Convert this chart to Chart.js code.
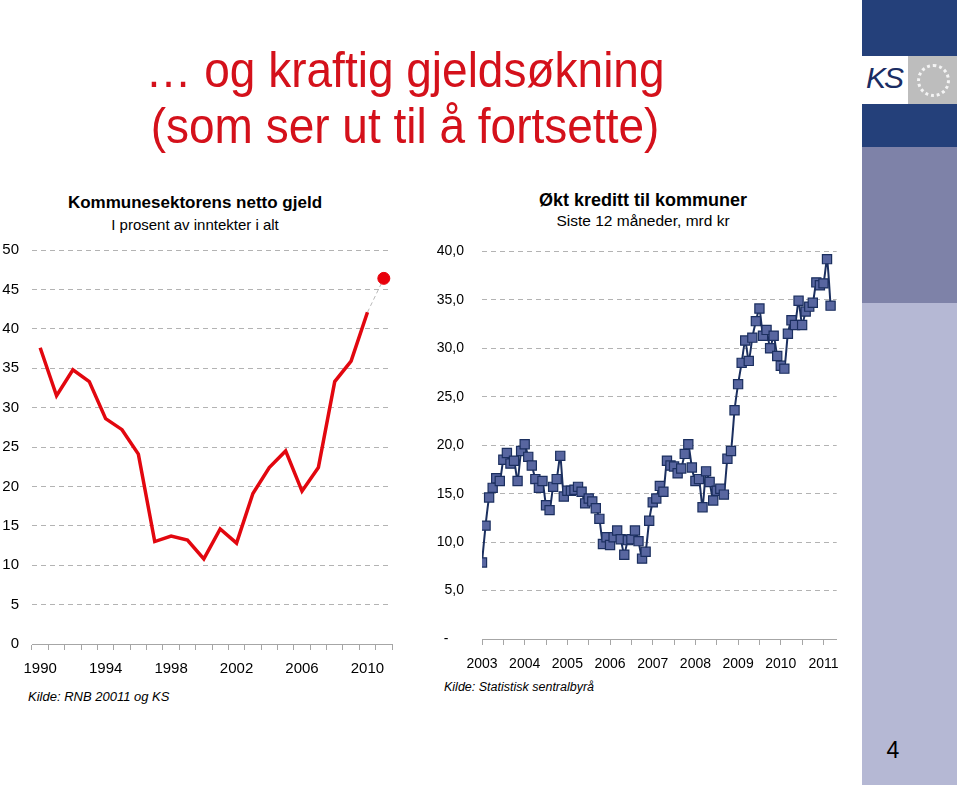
<!DOCTYPE html>
<html>
<head>
<meta charset="utf-8">
<script src="https://cdn.jsdelivr.net/npm/chart.js@4.4.1/dist/chart.umd.min.js"></script>
<style>
  body { margin:0; width:960px; height:785px; position:relative; overflow:hidden; background:#fff;
         font-family:"Liberation Sans", Arial, sans-serif; color:#000; }
  .abs { position:absolute; }
  .headline { left:0; width:810px; text-align:center; font-size:46px; line-height:46px; color:#d4111b;
              transform:scaleY(1.09); transform-origin:50% 39px; white-space:nowrap; }
  .ctitle { text-align:center; white-space:nowrap; }
  .kilde { font-style:italic; font-size:13px; white-space:nowrap; }
  canvas { position:absolute; }
</style>
</head>
<body>

<div class="abs headline" style="top:48px">… og kraftig gjeldsøkning</div>
<div class="abs headline" style="top:104px">(som ser ut til å fortsette)</div>

<div class="abs ctitle" style="left:45px; width:300px; top:193px; font-size:17px; font-weight:bold;">Kommunesektorens netto gjeld</div>
<div class="abs ctitle" style="left:45px; width:300px; top:216px; font-size:15px;">I prosent av inntekter i alt</div>

<div class="abs ctitle" style="left:493px; width:300px; top:190px; font-size:18px; font-weight:bold;">Økt kreditt til kommuner</div>
<div class="abs ctitle" style="left:493px; width:300px; top:212px; font-size:15.5px;">Siste 12 måneder, mrd kr</div>

<canvas id="gjeld" width="400" height="452" style="left:0; top:228px;"></canvas>
<canvas id="kreditt" width="430" height="450" style="left:420px; top:225px;"></canvas>

<div class="abs kilde" style="left:28px; top:689px;">Kilde: RNB 20011 og KS</div>
<div class="abs kilde" style="left:444px; top:680px; font-size:12.5px;">Kilde: Statistisk sentralbyrå</div>

<!-- KS side strip -->
<div class="abs" style="left:862px; top:0; width:95px; height:56px; background:#24407a;"></div>
<div class="abs" style="left:862px; top:56px; width:46px; height:48px; background:#fff;"></div>
<div class="abs" style="left:866px; top:61px; font-size:30px; font-style:italic; color:#1a2c63; letter-spacing:-2px;">KS</div>
<div class="abs" style="left:908px; top:56px; width:49px; height:48px; background:#bdbdbd;"></div>
<div class="abs" style="left:917px; top:64px; width:27px; height:27px; border:3px dotted #f4f4f4; border-radius:50%;"></div>
<div class="abs" style="left:862px; top:104px; width:95px; height:43px; background:#24407a;"></div>
<div class="abs" style="left:862px; top:147px; width:95px; height:156px; background:#7e82a8;"></div>
<div class="abs" style="left:862px; top:303px; width:95px; height:482px; background:#b5b8d4;"></div>
<div class="abs" style="left:862px; top:737px; width:62px; text-align:center; font-size:23px;">4</div>

<script>
// venstre figur: netto gjeld i prosent av inntekter
const aar = ['1990','1991','1992','1993','1994','1995','1996','1997','1998','1999','2000',
             '2001','2002','2003','2004','2005','2006','2007','2008','2009','2010','2011'];
const gjeld = [37.6, 31.5, 34.8, 33.3, 28.6, 27.2, 24.1, 13.0, 13.7, 13.2, 10.8,
               14.6, 12.8, 19.1, 22.4, 24.5, 19.4, 22.4, 33.3, 35.9, 42.1, null];
const anslag = [null, null, null, null, null, null, null, null, null, null, null,
                null, null, null, null, null, null, null, null, null, 42.1, 46.4];
const gjeldTicks = [0, 5, 10, 15, 20, 25, 30, 35, 40, 45, 50];

// høyre figur: økt kreditt siste 12 mnd, månedlig fra jan 2003
const startAar = 2003;
const kreditt = [
  7.9, 11.7, 14.6, 15.6, 16.6, 16.3, 18.5, 19.2, 18.1, 18.4, 16.3, 19.4,
  20.1, 18.8, 17.9, 16.5, 15.6, 16.3, 13.8, 13.3, 15.7, 16.5, 18.9, 14.7,
  15.3, 15.3, 15.4, 15.7, 15.2, 14.0, 14.5, 14.2, 13.5, 12.4, 9.8, 10.5,
  9.7, 10.5, 11.2, 10.3, 8.7, 10.2, 10.3, 11.2, 10.1, 8.3, 9.0, 12.2,
  14.1, 14.5, 15.8, 15.2, 18.4, 17.9, 17.8, 17.1, 17.6, 19.1, 20.1, 17.7,
  16.3, 16.5, 13.6, 17.3, 16.2, 14.3, 15.3, 15.5, 14.9, 18.6, 19.4, 23.6,
  26.3, 28.5, 30.8, 28.7, 31.1, 32.8, 34.1, 31.3, 31.9, 30.0, 31.3, 29.2,
  28.2, 27.9, 31.5, 32.9, 32.4, 34.9, 32.4, 33.8, 34.3, 34.7, 36.8, 36.5,
  36.7, 39.2, 34.4
];
const kredittAarTicks = [2003, 2004, 2005, 2006, 2007, 2008, 2009, 2010, 2011];

const gridGray = '#b3b3b3';
const axisGray = '#a6a6a6';

new Chart(document.getElementById('gjeld'), {
  type: 'line',
  data: {
    labels: aar,
    datasets: [
      {
        data: gjeld,
        borderColor: '#e2070f',
        borderWidth: 3.5,
        pointRadius: 0,
        tension: 0
      },
      {
        data: anslag,
        borderColor: '#b9b9b9',
        borderWidth: 1,
        borderDash: [4, 3],
        pointRadius: anslag.map((v, i) => i === anslag.length - 1 ? 6 : 0),
        pointBackgroundColor: '#e8000b',
        pointBorderColor: '#e8000b',
        tension: 0
      }
    ]
  },
  options: {
    responsive: false,
    animation: false,
    layout: { padding: { top: 10, right: 8, bottom: 0, left: 0 } },
    plugins: { legend: { display: false }, tooltip: { enabled: false } },
    scales: {
      x: {
        offset: true,
        grid: { offset: true, drawOnChartArea: false, color: axisGray, tickLength: 6 },
        border: { color: axisGray },
        ticks: {
          autoSkip: false, maxRotation: 0, padding: 10,
          color: '#000', font: { size: 15, family: 'Liberation Sans' },
          callback: function (v, i) { return i % 4 === 0 ? aar[i] : ''; }
        },
        afterFit: s => { s.height = 36; }
      },
      y: {
        min: 0, max: 50,
        afterBuildTicks: s => { s.ticks = gjeldTicks.map(v => ({ value: v })); },
        grid: { color: gridGray, drawTicks: false },
        border: { display: false, dash: [5, 4] },
        ticks: { padding: 13, color: '#000', font: { size: 15, family: 'Liberation Sans' } },
        afterFit: s => { s.width = 32; }
      }
    }
  }
});

new Chart(document.getElementById('kreditt'), {
  type: 'line',
  data: {
    datasets: [{
      data: kreditt.map((v, i) => ({ x: startAar + i / 12, y: v })),
      borderColor: '#1b2f5f',
      borderWidth: 2,
      tension: 0.2,
      pointStyle: 'rect',
      pointRadius: 6.5,
      pointBackgroundColor: '#5866a0',
      pointBorderColor: '#1b2f5f',
      pointBorderWidth: 1.2
    }]
  },
  options: {
    responsive: false,
    animation: false,
    layout: { padding: { top: 10, right: 13, bottom: 0, left: 0 } },
    plugins: { legend: { display: false }, tooltip: { enabled: false } },
    scales: {
      x: {
        type: 'linear',
        min: 2003, max: 2011.31,
        grid: { drawOnChartArea: false, color: axisGray, tickLength: 6 },
        border: { color: axisGray },
        ticks: {
          stepSize: 0.5, includeBounds: false, autoSkip: false, maxRotation: 0, padding: 11,
          color: '#000', font: { size: 14, family: 'Liberation Sans' },
          callback: v => kredittAarTicks.includes(v) ? String(v) : ''
        },
        afterFit: s => { s.height = 36; }
      },
      y: {
        min: 0, max: 40,
        ticks: {
          stepSize: 5, padding: 18, color: '#000', font: { size: 14, family: 'Liberation Sans' },
          callback: v => v === 0 ? '-    ' : v.toFixed(1).replace('.', ',')
        },
        grid: { color: gridGray, drawTicks: false },
        border: { display: false, dash: [5, 4] },
        afterFit: s => { s.width = 62; }
      }
    }
  }
});
</script>
</body>
</html>
